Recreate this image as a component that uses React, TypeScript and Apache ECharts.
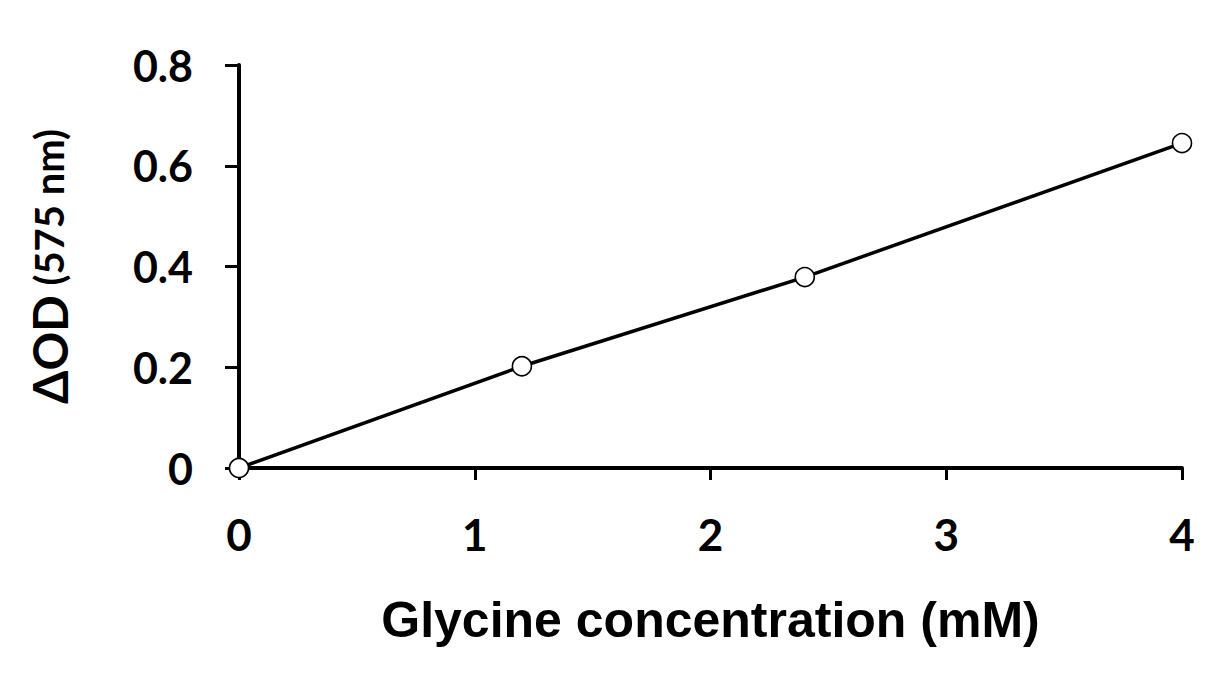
import React, { useEffect, useRef } from "react";
import * as echarts from "echarts";

const concentrations = [0, 1.2, 2.4, 4];
const deltaOD = [0, 0.202, 0.379, 0.645];
const xTicks = [0, 1, 2, 3, 4];
const yTicks = [0, 0.2, 0.4, 0.6, 0.8];

export default function App() {
  const ref = useRef<HTMLDivElement>(null);
  useEffect(() => {
    if (!ref.current) return;
    const chart = echarts.init(ref.current, undefined, { renderer: "svg" });
    const pts = concentrations.map((c, i) => [c, deltaOD[i]]);
    const tickFont = "Lato, 'DejaVu Sans', sans-serif";
    chart.setOption({
      animation: false,
      backgroundColor: "#ffffff",
      grid: { left: 239, right: 36, top: 65, bottom: 210 },
      xAxis: {
        type: "value",
        min: xTicks[0],
        max: xTicks[xTicks.length - 1],
        interval: 1,
        splitLine: { show: false },
        axisLine: { lineStyle: { color: "#000", width: 4 } },
        axisTick: { show: true, length: 12, lineStyle: { color: "#000", width: 3 } },
        axisLabel: {
          color: "#000",
          fontFamily: tickFont,
          fontWeight: "bold",
          fontSize: 44,
          margin: 66,
          verticalAlign: "middle",
        },
        name: "Glycine concentration (mM)",
        nameLocation: "middle",
        nameGap: 152,
        nameTextStyle: {
          color: "#000",
          fontFamily: "'Liberation Sans', Arial, sans-serif",
          fontWeight: "bold",
          fontSize: 50,
          verticalAlign: "middle",
        },
      },
      yAxis: {
        type: "value",
        min: yTicks[0],
        max: yTicks[yTicks.length - 1],
        interval: 0.2,
        splitLine: { show: false },
        axisLine: { lineStyle: { color: "#000", width: 4 } },
        axisTick: { show: true, length: 14, lineStyle: { color: "#000", width: 3 } },
        axisLabel: {
          color: "#000",
          fontFamily: tickFont,
          fontWeight: "bold",
          fontSize: 43,
          margin: 46,
        },
        name: "{a|ΔOD}{b| (575 nm)}",
        nameLocation: "middle",
        nameRotate: 90,
        nameGap: 190,
        nameTextStyle: {
          color: "#000",
          verticalAlign: "middle",
          rich: {
            a: { fontFamily: tickFont, fontWeight: "bold", fontSize: 48, color: "#000" },
            b: { fontFamily: tickFont, fontWeight: "bold", fontSize: 40, color: "#000" },
          },
        },
      },
      series: [
        {
          type: "line",
          data: pts,
          symbol: "none",
          lineStyle: { color: "#000", width: 3.5 },
          z: 2,
        },
        {
          type: "scatter",
          data: pts,
          symbol: "circle",
          symbolSize: 19,
          itemStyle: { color: "#fff", borderColor: "#000", borderWidth: 1.6, opacity: 1 },
          z: 3,
        },
      ],
    });
    return () => chart.dispose();
  }, []);
  return <div ref={ref} style={{ width: 1218, height: 678, position: "absolute", left: 0, top: 0 }} />;
}
